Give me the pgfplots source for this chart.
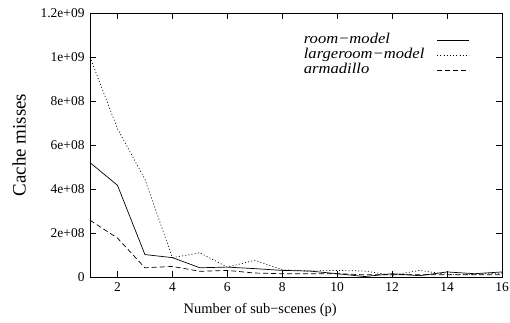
\documentclass[border=0pt]{standalone}
\usepackage{fontspec}
\setmainfont{Liberation Serif}
\newfontfamily\legfont{Liberation Serif}[FakeStretch=1.11]
\usepackage{pgfplots}
\pgfplotsset{compat=1.18}
\begin{document}
\begin{tikzpicture}
\path[use as bounding box] (-90bp,-46bp) rectangle (420bp,277bp);
\begin{axis}[
  at={(0,0)}, anchor=south west,
  scale only axis, width=412bp, height=264bp,
  xmin=1, xmax=16, ymin=0, ymax=1.2e9,
  xtick={2,4,...,16},
  ytick={0,2e8,4e8,6e8,8e8,1e9,1.2e9},
  yticklabels={0,2e+08,4e+08,6e+08,8e+08,1e+09,1.2e+09},
  scaled y ticks=false,
  /pgf/number format/assume math mode=true,
  tick align=inside, tick pos=both,
  major tick length=6bp,
  axis line style={line width=0.9pt},
  every tick/.style={black, line width=0.6pt},
  tick label style={font=\fontsize{13.5}{15}\selectfont},
  xticklabel style={yshift=-2bp},
  yticklabel style={xshift=-2bp},
  xlabel={Number of sub\textminus scenes (p)},
  ylabel={Cache misses},
  every axis x label/.style={at={(axis description cs:0.413,-0.125)}, anchor=center, font=\fontsize{14.5}{16}\selectfont},
  every axis y label/.style={at={(axis description cs:-0.172,0.5)}, rotate=90, anchor=center, font=\fontsize{19}{21}\selectfont},
  legend style={draw=none, fill=none, at={(axis description cs:0.515,0.926)}, anchor=north west,
    font=\fontsize{15}{15}\legfont\itshape, row sep=0pt, inner sep=0pt,
    nodes={text height=9bp, text depth=3bp, inner sep=1.5bp}},
  legend cell align=left,
  legend plot pos=right,
  legend image code/.code={\path (0bp,0bp); \draw[#1] (11bp,0bp) -- (43bp,0bp);},
]
\addplot[black, line width=0.7pt] coordinates {
(1,5.2e8) (2,4.17e8) (3,1.02e8) (4,0.88e8) (5,0.42e8) (6,0.45e8) (7,0.38e8) (8,0.30e8)
(9,0.27e8) (10,0.15e8) (11,0.02e8) (12,0.15e8) (13,0.06e8) (14,0.23e8) (15,0.15e8) (16,0.23e8)};
\addlegendentry{room\textminus model}
\addplot[black, line width=0.7pt, dash pattern=on 1bp off 2.2bp] coordinates {
(1,10.0e8) (2,6.74e8) (3,4.44e8) (4,0.88e8) (5,1.1e8) (6,0.45e8) (7,0.76e8) (8,0.33e8)
(9,0.27e8) (10,0.30e8) (11,0.27e8) (12,0.08e8) (13,0.30e8) (14,0.12e8) (15,0.12e8) (16,0.18e8)};
\addlegendentry{largeroom\textminus model}
\addplot[black, line width=0.7pt, dash pattern=on 5bp off 3bp] coordinates {
(1,2.58e8) (2,1.77e8) (3,0.42e8) (4,0.48e8) (5,0.26e8) (6,0.30e8) (7,0.18e8) (8,0.15e8)
(9,0.15e8) (10,0.15e8) (11,0.10e8) (12,0.10e8) (13,0.10e8) (14,0.10e8) (15,0.10e8) (16,0.10e8)};
\addlegendentry{armadillo}
\end{axis}
\end{tikzpicture}
\end{document}
